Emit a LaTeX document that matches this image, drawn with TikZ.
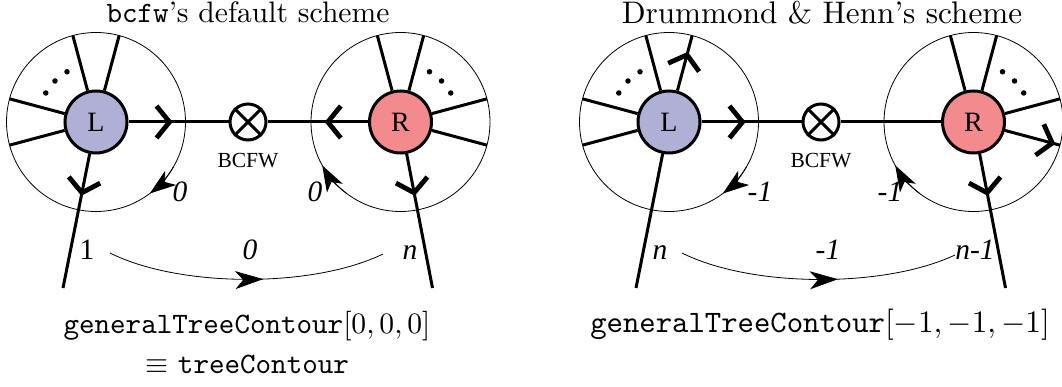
\RequirePackage{fix-cm}
\documentclass[tikz,border=0pt]{standalone}
\usepackage{fontspec}
\newfontfamily\tms{Liberation Serif}
\usetikzlibrary{arrows.meta,decorations.markings,calc}
\definecolor{lblob}{RGB}{176,176,214}
\definecolor{rblob}{RGB}{242,138,142}
\newcommand{\nodef}{\tms\fontsize{28}{32}\selectfont}
\newcommand{\labf}{\tms\fontsize{29.5}{33}\selectfont}
\newcommand{\smallf}{\tms\fontsize{21.5}{25}\selectfont}
\begin{document}
\begin{tikzpicture}[x=1pt,y=1pt,
  blob/.style={circle,draw,line width=3pt,minimum size=62pt,inner sep=0pt,font=\nodef},
  bcfw/.style={circle,draw,line width=3pt,minimum size=36pt,inner sep=0pt},
  xline/.style={line width=3pt},
  ring/.style={line width=0.8pt},
  leg/.style={line width=3pt},
  chev/.style={postaction={decorate,decoration={markings,mark=at position #1 with {\draw[line width=4.8pt,line cap=butt] (-13,16) -- (0,0) -- (-13,-16);}}}},
  carrow/.style={ring,-{Stealth[length=26pt,width=18pt,inset=7pt]}},
  barc/.style={ring,postaction={decorate,decoration={markings,mark=at position #1 with {\arrow{Stealth[length=28pt,width=18pt,inset=8pt]}}}}},
  dot/.style={circle,fill,inner sep=0pt,minimum size=5.5pt},
  lab/.style={anchor=base,font=\labf\itshape,inner sep=0pt},
  ulab/.style={anchor=base,font=\labf,inner sep=0pt},
  txt/.style={anchor=base,font=\normalsize,inner sep=0pt,scale=2.96},
  txtr/.style={anchor=base,font=\normalsize,inner sep=0pt,scale=3.12}]
\useasboundingbox (0,0) rectangle (1062,-387);

% titles
\node[txt] (t1) at (248,-22.5) {\texttt{bcfw}'s default scheme};
\node[txtr] (t2) at (822,-24) {Drummond \& Henn's scheme};

% ---------- left diagram ----------
\begin{scope}
\node[blob,fill=lblob] (L1) at (96,-122) {L};
\node[blob,fill=rblob] (R1) at (400.5,-122) {R};
\node[bcfw] (B1) at (248,-122) {};
\draw[xline] (B1.45) -- (B1.225) (B1.135) -- (B1.315);
\node[anchor=base,font=\smallf,inner sep=0pt] (B1l) at (248,-168) {BCFW};
\draw[ring] (L1.center) circle[radius=89.5];
\draw[ring] (R1.center) circle[radius=89.5];
\foreach \a/\n in {75/a,105/b,165/c,195/d} \coordinate (L1\n) at ($(L1.center)+(\a:89.5)$);
\foreach \a/\n in {105/a,75/b,15/c,-15/d} \coordinate (R1\n) at ($(R1.center)+(\a:89.5)$);
\coordinate (L1e) at (63,-288);
\coordinate (R1e) at (432.5,-288);
\foreach \n in {a,b,c,d} {\draw[leg] (L1) -- (L1\n); \draw[leg] (R1) -- (R1\n);}
\draw[leg,chev=0.29] (L1) -- (L1e);
\draw[leg,chev=0.29] (R1) -- (R1e);
\draw[leg,chev=0.41] (L1) -- (B1);
\draw[leg,chev=0.40] (R1) -- (B1);
\foreach \a in {120,135,150} \node[dot] at ($(L1.center)+(\a:58)$) {};
\foreach \a in {60,45,30} \node[dot] at ($(R1.center)+(\a:58)$) {};
\draw[carrow] ($(L1.center)+(-30:89.5)$) arc[start angle=-30,end angle=-53,radius=89.5];
\draw[carrow] ($(R1.center)+(233:89.5)$) arc[start angle=233,end angle=209,radius=89.5];
\coordinate (c1s) at (110,-253);
\coordinate (c1e) at (383,-254);
\draw[barc=0.56] (c1s) .. controls (180,-288) and (313,-288) .. (c1e);
\node[lab] at (180,-202) {0};
\node[lab] at (315,-202) {0};
\node[ulab] at (87,-260) {1};
\node[lab] at (250,-260) {0};
\node[lab] at (410,-260) {n};
\end{scope}

% ---------- right diagram ----------
\begin{scope}[xshift=573pt]
\node[blob,fill=lblob] (L2) at (96,-122) {L};
\node[blob,fill=rblob] (R2) at (400.5,-122) {R};
\node[bcfw] (B2) at (248,-122) {};
\draw[xline] (B2.45) -- (B2.225) (B2.135) -- (B2.315);
\node[anchor=base,font=\smallf,inner sep=0pt] (B2l) at (248,-168) {BCFW};
\draw[ring] (L2.center) circle[radius=89.5];
\draw[ring] (R2.center) circle[radius=89.5];
\foreach \a/\n in {75/a,105/b,165/c,195/d} \coordinate (L2\n) at ($(L2.center)+(\a:89.5)$);
\foreach \a/\n in {105/a,75/b,15/c,-15/d} \coordinate (R2\n) at ($(R2.center)+(\a:89.5)$);
\coordinate (L2e) at (63,-288);
\coordinate (R2e) at (432.5,-288);
\draw[leg,chev=0.65] (L2) -- (L2a);
\draw[leg] (L2) -- (L2b);
\draw[leg] (L2) -- (L2c);
\draw[leg] (L2) -- (L2d);
\draw[leg] (R2) -- (R2a);
\draw[leg] (R2) -- (R2b);
\draw[leg] (R2) -- (R2c);
\draw[leg,chev=0.86] (R2) -- (R2d);
\draw[leg] (L2) -- (L2e);
\draw[leg,chev=0.29] (R2) -- (R2e);
\draw[leg,chev=0.41] (L2) -- (B2);
\draw[leg] (R2) -- (B2);
\foreach \a in {120,135,150} \node[dot] at ($(L2.center)+(\a:58)$) {};
\foreach \a in {60,45,30} \node[dot] at ($(R2.center)+(\a:58)$) {};
\draw[carrow] ($(L2.center)+(-30:89.5)$) arc[start angle=-30,end angle=-53,radius=89.5];
\draw[carrow] ($(R2.center)+(233:89.5)$) arc[start angle=233,end angle=209,radius=89.5];
\coordinate (c2s) at (109,-253);
\coordinate (c2e) at (382,-255);
\draw[barc=0.57] (c2s) .. controls (179,-288) and (312,-288) .. (c2e);
\node[lab] at (187,-202) {-1};
\node[lab] at (317,-202) {-1};
\node[lab] at (87,-260) {n};
\node[lab] at (255,-260) {-1};
\node[lab] at (402,-260) {n-1};
\end{scope}

% bottom texts
\node[txt] (g1) at (247,-333) {\texttt{generalTreeContour}$[0,0,0]$};
\node[txt] (g2) at (247,-373) {$\equiv$ \texttt{treeContour}};
\node[txtr] (g3) at (820,-332.5) {\texttt{generalTreeContour}$[-1,-1,-1]$};
\end{tikzpicture}
\end{document}
